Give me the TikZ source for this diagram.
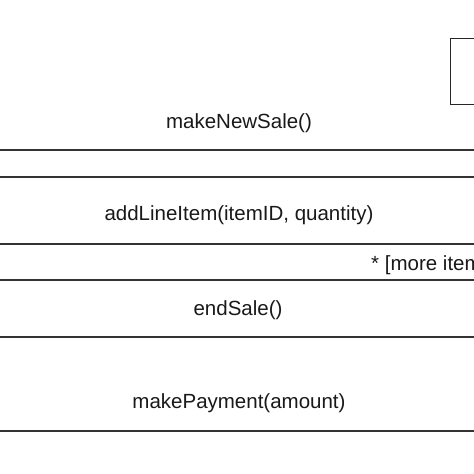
\documentclass[tikz,border=0pt]{standalone}
\usepackage{fontspec}
\setmainfont{Liberation Sans}
\begin{document}
\begin{tikzpicture}[x=1pt,y=-1pt,
  msg/.style={draw=black!80,line width=1.3pt},
  lbl/.style={font=\fontsize{20.5}{24}\selectfont,text=black!90,inner sep=0pt}]
\useasboundingbox (0,0) rectangle (474,474);
\clip (0,0) rectangle (474,474);
\node[draw=black!85,line width=1pt,minimum width=40pt,minimum height=66pt,anchor=north west] (box) at (449.5,37.5) {};
\coordinate (l1a) at (0,150); \coordinate (l1b) at (474,150);
\coordinate (l2a) at (0,177); \coordinate (l2b) at (474,177);
\coordinate (l3a) at (0,244); \coordinate (l3b) at (474,244);
\coordinate (l4a) at (0,280); \coordinate (l4b) at (474,280);
\coordinate (l5a) at (0,337); \coordinate (l5b) at (474,337);
\coordinate (l6a) at (0,431); \coordinate (l6b) at (474,431);
\foreach \i in {1,...,6} \draw[msg] (l\i a) -- (l\i b);
\node[lbl] (t1) at (239,123) {makeNewSale()};
\node[lbl] (t2) at (239,215) {addLineItem(itemID, quantity)};
\node[lbl,anchor=west] (t3) at (371,265) {* [more items]};
\node[lbl] (t4) at (238,310) {endSale()};
\node[lbl] (t5) at (239,403) {makePayment(amount)};
\end{tikzpicture}
\end{document}
